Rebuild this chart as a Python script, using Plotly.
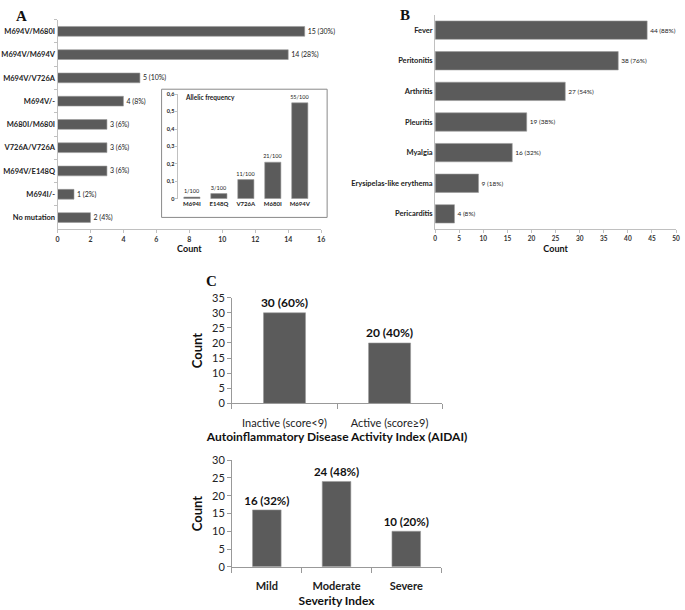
import plotly.graph_objects as go

# Panel A: genotypes
genotypes = ["M694V/M680I", "M694V/M694V", "M694V/V726A", "M694V/-", "M680I/M680I",
             "V726A/V726A", "M694V/E148Q", "M694I/-", "No mutation"]
genotype_counts = [15, 14, 5, 4, 3, 3, 3, 1, 2]
genotype_labels = ["15 (30%)", "14 (28%)", "5 (10%)", "4 (8%)", "3 (6%)", "3 (6%)", "3 (6%)", "1 (2%)", "2 (4%)"]

# Inset: allelic frequency
alleles = ["M694I", "E148Q", "V726A", "M680I", "M694V"]
allele_freq = [0.01, 0.03, 0.11, 0.21, 0.55]
allele_labels = ["1/100", "3/100", "11/100", "21/100", "55/100"]
allele_ticks = [0, 0.1, 0.2, 0.3, 0.4, 0.5, 0.6]
allele_ticktext = ["0", "0,1", "0,2", "0,3", "0,4", "0,5", "0,6"]

# Panel B: symptoms
symptoms = ["Fever", "Peritonitis", "Arthritis", "Pleuritis", "Myalgia", "Erysipelas-like erythema", "Pericarditis"]
symptom_counts = [44, 38, 27, 19, 16, 9, 4]
symptom_labels = ["44 (88%)", "38 (76%)", "27 (54%)", "19 (38%)", "16 (32%)", "9 (18%)", "4 (8%)"]

# Panel C: AIDAI
aidai_cats = ["Inactive (score<9)", "Active (score≥9)"]
aidai_counts = [30, 20]
aidai_labels = ["30 (60%)", "20 (40%)"]

# Panel C: severity
sev_cats = ["Mild", "Moderate", "Severe"]
sev_counts = [16, 24, 10]
sev_labels = ["16 (32%)", "24 (48%)", "10 (20%)"]

W, H = 685, 610
def px(x): return x / W
def py(y): return 1 - y / H

BAR = "#5b5b5b"
EDGE = "#9a9a9a"
FONT = "Lato"
AXC = "#c0c0c0"

fig = go.Figure()

fig.add_trace(go.Bar(x=genotype_counts, y=genotypes, orientation="h", text=genotype_labels,
                     textposition="outside", cliponaxis=False, constraintext="none",
                     textfont=dict(family=FONT, size=7, color="#222"),
                     marker=dict(color=BAR, line=dict(color=EDGE, width=0.6)),
                     width=0.42, xaxis="x", yaxis="y"))

fig.add_trace(go.Bar(x=alleles, y=allele_freq, text=allele_labels, textposition="outside",
                     cliponaxis=False, constraintext="none",
                     textfont=dict(family=FONT, size=5.5, color="#222"),
                     marker=dict(color=BAR, line=dict(color=EDGE, width=0.6)),
                     width=0.6, xaxis="x2", yaxis="y2"))

fig.add_trace(go.Bar(x=symptom_counts, y=symptoms, orientation="h", text=symptom_labels,
                     textposition="outside", cliponaxis=False, constraintext="none",
                     textfont=dict(family=FONT, size=6.5, color="#222"),
                     marker=dict(color=BAR, line=dict(color=EDGE, width=0.6)),
                     width=0.6, xaxis="x3", yaxis="y3"))

fig.add_trace(go.Bar(x=aidai_cats, y=aidai_counts, text=aidai_labels, textposition="outside",
                     cliponaxis=False, constraintext="none",
                     textfont=dict(family=FONT, size=12, color="#111", weight="bold"),
                     marker=dict(color=BAR, line=dict(color=EDGE, width=0.6)),
                     width=0.4, xaxis="x4", yaxis="y4"))

fig.add_trace(go.Bar(x=sev_cats, y=sev_counts, text=sev_labels, textposition="outside",
                     cliponaxis=False, constraintext="none",
                     textfont=dict(family=FONT, size=11.5, color="#111", weight="bold"),
                     marker=dict(color=BAR, line=dict(color=EDGE, width=0.6)),
                     width=0.41, xaxis="x5", yaxis="y5"))

small_tick = dict(family=FONT, size=7, color="#333", weight="bold")

fig.update_layout(
    width=W, height=H, margin=dict(l=0, r=0, t=0, b=0),
    paper_bgcolor="white", plot_bgcolor="rgba(0,0,0,0)",
    showlegend=False, font=dict(family=FONT),
    # Panel A
    xaxis=dict(domain=[px(56), px(322)], range=[0, 16], dtick=2, anchor="y",
               showline=True, linecolor=AXC, ticks="outside", ticklen=3, tickcolor=AXC,
               showgrid=False, zeroline=False, tickfont=small_tick, ticklabeloverflow="allow",
               title=dict(text="Count", font=dict(family=FONT, size=9, color="#111", weight="bold"), standoff=4)),
    yaxis=dict(domain=[py(227), py(13)], autorange="reversed", anchor="x",
               categoryorder="array", categoryarray=genotypes,
               showline=True, linecolor=AXC, ticks="outside", ticklen=3, tickcolor=AXC,
               tickson="boundaries", showgrid=False, tickfont=dict(family=FONT, size=7.5, color="#222", weight="bold")),
    # Inset
    xaxis2=dict(domain=[px(178), px(314)], anchor="y2", showline=False, ticks="",
                showgrid=False, tickfont=dict(family=FONT, size=6, color="#222", weight="bold")),
    yaxis2=dict(domain=[py(196), py(89)], range=[0, 0.6], anchor="x2",
                tickvals=allele_ticks, ticktext=allele_ticktext, ticklabeloverflow="allow",
                showline=True, linecolor=AXC, ticks="outside", ticklen=2, tickcolor=AXC,
                showgrid=False, zeroline=False, tickfont=dict(family=FONT, size=5.5, color="#222", weight="bold")),
    # Panel B
    xaxis3=dict(domain=[px(437), px(680)], range=[0, 50], dtick=5, anchor="y3",
                showline=True, linecolor=AXC, ticks="outside", ticklen=3, tickcolor=AXC,
                showgrid=False, zeroline=False, ticklabeloverflow="allow",
                tickfont=dict(family=FONT, size=6.5, color="#333", weight="bold"),
                title=dict(text="Count", font=dict(family=FONT, size=9, color="#111", weight="bold"), standoff=4)),
    yaxis3=dict(domain=[py(227), py(8)], autorange="reversed", anchor="x3",
                categoryorder="array", categoryarray=symptoms,
                showline=True, linecolor=AXC, ticks="", showgrid=False,
                tickfont=dict(family=FONT, size=7.5, color="#222", weight="bold")),
    # Panel C top
    xaxis4=dict(domain=[px(232), px(444)], anchor="y4", showline=True, linecolor="#999",
                ticks="outside", tickson="boundaries", ticklen=5, tickcolor="#999",
                ticklabelstandoff=9,
                showgrid=False, tickfont=dict(family=FONT, size=11, color="#222"),
                title=dict(text="Autoinflammatory Disease Activity Index (AIDAI)",
                           font=dict(family=FONT, size=12, color="#111", weight="bold"), standoff=1)),
    yaxis4=dict(domain=[py(405), py(297)], range=[0, 35], dtick=5, anchor="x4",
                showline=True, linecolor="#999", ticks="outside", ticklen=4, tickcolor="#999",
                showgrid=False, zeroline=False, ticklabeloverflow="allow",
                tickfont=dict(family=FONT, size=11, color="#222"),
                title=dict(text="Count", font=dict(family=FONT, size=13, color="#111", weight="bold"), standoff=6)),
    # Panel C bottom
    xaxis5=dict(domain=[px(232), px(443)], anchor="y5", showline=True, linecolor="#999",
                ticks="outside", tickson="boundaries", ticklen=5, tickcolor="#999",
                ticklabelstandoff=9,
                showgrid=False, tickfont=dict(family=FONT, size=11, color="#222", weight="bold"),
                title=dict(text="Severity Index", font=dict(family=FONT, size=12, color="#111", weight="bold"), standoff=5)),
    yaxis5=dict(domain=[py(572), py(463)], range=[0, 30], dtick=5, anchor="x5",
                showline=True, linecolor="#999", ticks="outside", ticklen=4, tickcolor="#999",
                showgrid=False, zeroline=False, ticklabeloverflow="allow",
                tickfont=dict(family=FONT, size=11, color="#222"),
                title=dict(text="Count", font=dict(family=FONT, size=13, color="#111", weight="bold"), standoff=6)),
    shapes=[dict(type="rect", xref="paper", yref="paper", x0=px(161), x1=px(328), y0=py(215), y1=py(84),
                 line=dict(color="#8a8a8a", width=1), fillcolor="rgba(0,0,0,0)", layer="below")],
    annotations=[
        dict(text="<b>A</b>", x=px(12), y=py(9), xref="paper", yref="paper", showarrow=False,
             xanchor="left", yanchor="middle", font=dict(family="Liberation Serif", size=15, color="#111")),
        dict(text="<b>B</b>", x=px(400), y=py(8), xref="paper", yref="paper", showarrow=False,
             xanchor="left", yanchor="middle", font=dict(family="Liberation Serif", size=15, color="#111")),
        dict(text="<b>C</b>", x=px(204), y=py(280), xref="paper", yref="paper", showarrow=False,
             xanchor="left", yanchor="middle", font=dict(family="Liberation Serif", size=15, color="#111")),
        dict(text="<b>Allelic frequency</b>", x=px(183), y=py(92), xref="paper", yref="paper", showarrow=False,
             xanchor="left", yanchor="middle", font=dict(family=FONT, size=6.5, color="#222")),
    ],
)

fig.write_html("out.html", config={"displayModeBar": False},
               post_script="document.body.style.margin='0px'; document.body.style.overflow='hidden';")
